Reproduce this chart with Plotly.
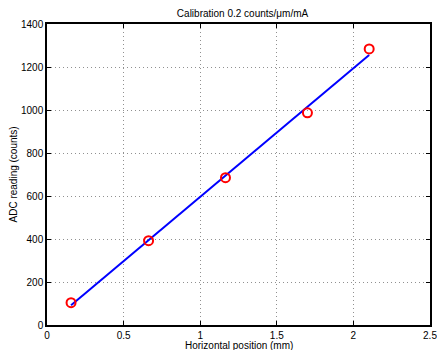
import numpy as np
import plotly.graph_objects as go

x_pos = [0.157, 0.663, 1.165, 1.700, 2.103]
adc = [104, 392, 685, 987, 1284]
x_ticks = [0, 0.5, 1, 1.5, 2, 2.5]
x_tick_text = ["0", "0.5", "1", "1.5", "2", "2.5"]
y_ticks = [0, 200, 400, 600, 800, 1000, 1200, 1400]

coef = np.polyfit(x_pos, adc, 1)
fit_x = [x_pos[0], x_pos[-1]]
fit_y = [float(np.polyval(coef, v)) for v in fit_x]

fig = go.Figure()
fig.add_trace(go.Scatter(x=fit_x, y=fit_y, mode="lines",
                         line=dict(color="#0000ff", width=2), showlegend=False))
fig.add_trace(go.Scatter(x=x_pos, y=adc, mode="markers",
                         marker=dict(symbol="circle-open", color="#ff0000", size=9,
                                     line=dict(width=2, color="#ff0000")),
                         showlegend=False))

font = dict(family="Liberation Sans, Arial, sans-serif", size=10, color="black")
axis_common = dict(showline=True, linecolor="black", linewidth=1.5, mirror="allticks",
                   ticks="inside", ticklen=4, tickcolor="black",
                   showgrid=True, gridcolor="#909090", griddash="1px,3px", gridwidth=1,
                   zeroline=False, tickfont=font, automargin=False,
                   ticklabeloverflow="allow")
fig.update_layout(
    width=437, height=350,
    margin=dict(l=47, r=7, t=24, b=25),
    paper_bgcolor="white", plot_bgcolor="white",
    font=font,
    title=dict(text="Calibration 0.2 counts/μm/mA", x=0.555, xanchor="center",
               y=1 - 13 / 350, yanchor="middle", font=dict(size=10, family=font["family"])),
    xaxis=dict(range=[0, 2.5], tickvals=x_ticks, ticktext=x_tick_text, **axis_common),
    yaxis=dict(range=[0, 1400], tickvals=y_ticks, **axis_common),
    annotations=[
        dict(text="Horizontal position (mm)", xref="paper", yref="paper",
             x=0.5, y=-20 / 301, xanchor="center", yanchor="middle",
             showarrow=False, font=font),
        dict(text="ADC reading (counts)", xref="paper", yref="paper",
             x=-34 / 383, y=0.5, xanchor="center", yanchor="middle",
             textangle=-90, showarrow=False, font=font),
    ],
)
fig.write_html("out.html")
